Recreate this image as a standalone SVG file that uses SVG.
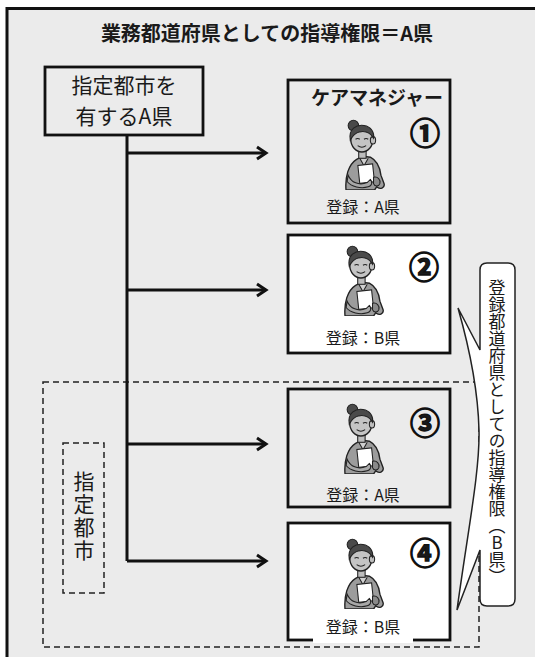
<svg xmlns="http://www.w3.org/2000/svg" width="535" height="657" viewBox="0 0 535 657">
  <style>
    .frame { fill: #ebebeb; stroke: #111; stroke-width: 3; }
    .box { stroke: #111; stroke-width: 2.8; }
    .grey { fill: #ebebeb; }
    .white { fill: #fff; }
    .dash { fill: none; stroke: #222; stroke-width: 1.5; stroke-dasharray: 6 4; }
    .wire { fill: none; stroke: #111; stroke-width: 3; }
    .jp { font-family: "Noto Sans CJK JP", "Noto Sans", sans-serif; fill: #1a1a1a; }
    .title { font-size: 20px; font-weight: bold; }
    .label { font-size: 21px; }
    .head { font-size: 19px; font-weight: bold; }
    .reg { font-size: 16px; }
    .num { font-size: 30px; font-weight: bold; stroke: #111; stroke-width: 1.3; }
    .vert { writing-mode: vertical-rl; text-orientation: upright; }
  </style>
  <defs>
    <marker id="chevron" markerUnits="userSpaceOnUse" markerWidth="14" markerHeight="16" viewBox="0 0 14 16" refX="11" refY="8" orient="auto">
      <path d="M2,2 L11,8 L2,14" fill="none" stroke="#111" stroke-width="3" stroke-linejoin="miter"/>
    </marker>
    <!-- care manager figure: woman with hair bun holding a document -->
    <symbol id="carer" viewBox="0 0 42 70" width="46" height="74">
      <path d="M4,70 C3,58 6,46 14,41 L20,38 L27,39 C33,42 36,48 37,56 L40,64 C41,68 36,70 33,67 L31,70 Z" fill="#9c9c9c" stroke="#222" stroke-width="1.3"/>
      <path d="M17,40 L21,47 L25,40" fill="#d0d0d0" stroke="#222" stroke-width="1"/>
      <rect x="16" y="46" width="14" height="17" transform="rotate(-6 23 54)" fill="#fff" stroke="#222" stroke-width="1"/>
      <path d="M6,56 C9,63 16,66 24,63 L27,60 C29,62 29,66 25,67 C18,69 9,67 5,62 Z" fill="#a8a8a8" stroke="#222" stroke-width="1"/>
      <path d="M30,58 C34,57 37,60 36,64 C35,67 31,67 30,64 Z" fill="#8a8a8a" stroke="#222" stroke-width="1"/>
      <rect x="16" y="32" width="7" height="8" fill="#bdbdbd" stroke="#222" stroke-width="1"/>
      <ellipse cx="19" cy="22" rx="10.5" ry="12" fill="#c4c4c4" stroke="#222" stroke-width="1.3"/>
      <ellipse cx="29.5" cy="23" rx="2.5" ry="3.5" fill="#bdbdbd" stroke="#222" stroke-width="1"/>
      <circle cx="11" cy="9" r="5" fill="#4a4a4a" stroke="#222" stroke-width="1"/>
      <path d="M8,23 C6,12 14,8 21,9 C28,10 31,16 30,21 C27,16 22,14 17,15 C13,16 10,19 8,23 Z" fill="#4a4a4a" stroke="#222" stroke-width="1"/>
      <path d="M13,22 q2,-1.5 4,0 M21,22 q2,-1.5 4,0" fill="none" stroke="#222" stroke-width="1"/>
      <path d="M15,28 q4,3 8,0" fill="none" stroke="#222" stroke-width="1"/>
    </symbol>
  </defs>

  <!-- outer frame, open to the right and bottom -->
  <rect class="frame" x="7" y="8.5" width="545" height="670"/>
  <text class="jp title" x="267" y="41" text-anchor="middle">業務都道府県としての指導権限＝A県</text>

  <!-- designated-city area -->
  <rect id="city-area" class="dash" x="43" y="382" width="436" height="265"/>
  <g id="city-label">
    <rect class="dash" x="63" y="443" width="41" height="150"/>
    <text class="jp label vert" x="84" y="471" letter-spacing="2">指定都市</text>
  </g>

  <g id="prefecture">
    <rect class="box grey" x="45" y="67" width="158" height="68"/>
    <text class="jp label" x="124" y="93" text-anchor="middle">指定都市を</text>
    <text class="jp label" x="124" y="124" text-anchor="middle">有するA県</text>
  </g>

  <g id="connectors">
    <path class="wire" d="M127,135 V561"/>
    <path class="wire" d="M127,153 H266" marker-end="url(#chevron)"/>
    <path class="wire" d="M127,290 H266" marker-end="url(#chevron)"/>
    <path class="wire" d="M127,444 H266" marker-end="url(#chevron)"/>
    <path class="wire" d="M127,561 H266" marker-end="url(#chevron)"/>
  </g>

  <g id="manager-1">
    <rect class="box grey" x="288" y="80" width="162" height="143"/>
    <text class="jp head" x="377" y="105" text-anchor="middle">ケアマネジャー</text>
    <use href="#carer" x="341" y="116"/>
    <text class="jp num" x="425" y="144" text-anchor="middle">①</text>
    <text class="jp reg" x="363" y="213" text-anchor="middle">登録：A県</text>
  </g>

  <g id="manager-2">
    <rect class="box white" x="288" y="235" width="162" height="118"/>
    <use href="#carer" x="340" y="242"/>
    <text class="jp num" x="424" y="278" text-anchor="middle">②</text>
    <text class="jp reg" x="363" y="344" text-anchor="middle">登録：B県</text>
  </g>

  <g id="manager-3">
    <rect class="box grey" x="288" y="389" width="162" height="118"/>
    <use href="#carer" x="340" y="400"/>
    <text class="jp num" x="425" y="434" text-anchor="middle">③</text>
    <text class="jp reg" x="363" y="501" text-anchor="middle">登録：A県</text>
  </g>

  <g id="manager-4">
    <rect class="box white" x="288" y="523" width="162" height="117"/>
    <rect x="313" y="636" width="100" height="7" fill="#fff"/>
    <use href="#carer" x="340" y="535"/>
    <text class="jp num" x="425" y="564" text-anchor="middle">④</text>
    <text class="jp reg" x="363" y="633" text-anchor="middle">登録：B県</text>
  </g>

  <!-- callout: supervising authority of the registering prefecture -->
  <g id="callout">
    <path d="M487,263 H508 Q515,263 515,270 V599 Q515,606 508,606 H487 Q480,606 480,599 V550 L457,610 C468,530 480,470 479,430 C478,390 470,350 458,308 L480,350 V270 Q480,263 487,263 Z" fill="#fff" stroke="#222" stroke-width="1.5" stroke-linejoin="miter"/>
    <text class="jp vert" x="497" y="279" font-size="17">登録都道府県としての指導権限（B県）</text>
  </g>
</svg>
